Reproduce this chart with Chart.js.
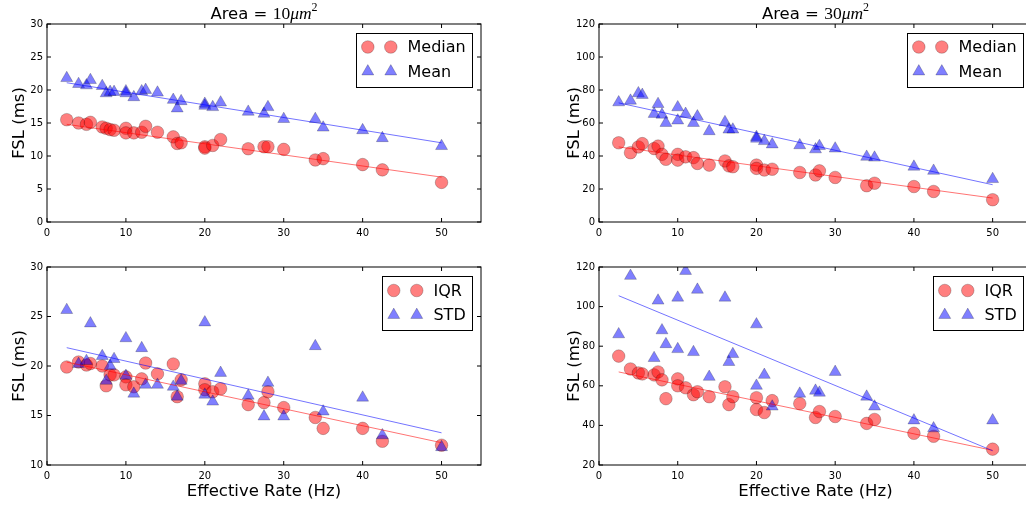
<!DOCTYPE html>
<html><head><meta charset="utf-8">
<script src="https://cdn.jsdelivr.net/npm/chart.js@4.4.1/dist/chart.umd.min.js"></script>
<style>
html,body{margin:0;padding:0;overflow:hidden;background:#fff;width:1026px;height:506px;}
canvas{position:absolute;}
</style></head><body>
<canvas id="c1" width="500" height="253" style="left:0px;top:0px"></canvas>
<canvas id="c2" width="487" height="253" style="left:555px;top:0px"></canvas>
<canvas id="c3" width="500" height="253" style="left:0px;top:253px"></canvas>
<canvas id="c4" width="487" height="253" style="left:555px;top:253px"></canvas>
<script>
// ---- data ----
const rates = [2.5, 4, 5, 5.5, 7, 7.5, 8, 8.5, 10, 10, 11, 12, 12.5, 14, 16, 16.5, 17, 20, 20, 21, 22, 25.5, 27.5, 28, 30, 34, 35, 40, 42.5, 50];
const rateTicks = [0, 10, 20, 30, 40, 50];
const fitX = [2.5, 50];

// Area = 10 um^2
const median10 = [15.5, 15.0, 14.8, 15.1, 14.4, 14.2, 14.0, 13.9, 14.2, 13.5, 13.5, 13.6, 14.5, 13.6, 12.9, 11.9, 12.0, 11.4, 11.2, 11.6, 12.5, 11.1, 11.4, 11.4, 11.0, 9.4, 9.6, 8.7, 7.9, 6.0];
const mean10   = [21.8, 20.9, 20.7, 21.5, 20.6, 19.5, 19.7, 19.7, 19.8, 19.5, 18.9, 19.8, 20.0, 19.6, 18.5, 17.2, 18.3, 17.9, 17.6, 17.4, 18.1, 16.7, 16.4, 17.4, 15.6, 15.6, 14.3, 13.9, 12.7, 11.5];
const fitMedian10 = [14.8, 6.8];
const fitMean10   = [21.1, 12.0];
const ticksTop10  = [0, 5, 10, 15, 20, 25, 30];

// Area = 30 um^2
const median30 = [48, 42, 45.5, 47.5, 44.5, 46, 41, 38, 41, 37.5, 39.5, 39, 35.5, 34.5, 37, 34, 33.5, 34.5, 32.5, 31.5, 32, 30, 28.5, 31, 27, 22, 23.5, 21.5, 18.5, 13.5];
const mean30   = [72.5, 73.5, 78, 77, 65.5, 71.5, 65, 60, 69.5, 61.5, 65.5, 60, 64, 55, 60.5, 56, 56, 51.5, 50.5, 49, 47, 46.5, 44, 46, 44.5, 39.5, 39, 33.5, 31, 26];
const fitMedian30 = [45.5, 14.5];
const fitMean30   = [72.2, 22.6];
const ticksTop30  = [0, 20, 40, 60, 80, 100, 120];

// spread, Area = 10
const iqr10 = [19.9, 20.4, 20.1, 20.25, 20.0, 18.0, 19.1, 19.1, 18.9, 18.1, 17.9, 18.7, 20.3, 19.2, 20.2, 16.9, 18.6, 18.2, 17.6, 17.4, 17.7, 16.1, 16.3, 17.4, 15.8, 14.8, 13.7, 13.7, 12.4, 12.0];
const std10 = [25.65, 20.2, 20.5, 24.3, 21.0, 18.5, 20.0, 20.7, 22.8, 19.0, 17.2, 21.8, 18.1, 18.1, 17.9, 16.9, 18.5, 24.4, 17.1, 16.4, 19.3, 17.0, 14.9, 18.3, 14.9, 22.0, 15.4, 16.8, 13.0, 11.8];
const fitIqr10 = [20.4, 12.25];
const fitStd10 = [21.85, 13.25];
const ticksBot10 = [10, 15, 20, 25, 30];

// spread, Area = 30 (two STD points lie above the visible range)
const iqr30 = [75, 68.5, 66.5, 66, 65.5, 67, 63, 53.5, 63.5, 60, 59, 55.5, 57, 54.5, 59.5, 50.5, 54.5, 54, 48, 46.5, 52.5, 51, 44, 47, 44.5, 41, 43, 36, 34.5, 28];
const std30 = [86, 115.5, null, null, 74, 103, 88, 81, 104.5, 78.5, 118, 77, 108.5, 64.5, 104.5, 72, 76, 91, 60, 65.5, 49.5, 56, 57.5, 56.5, 67, 54.5, 49.5, 42.5, 38.5, 42.5];
const fitIqr30 = [67, 27.4];
const fitStd30 = [105.5, 27.2];
const ticksBot30 = [20, 40, 60, 80, 100, 120];

// ---- styling ----
const RED_FILL = 'rgba(255,0,0,0.5)';
const BLUE_FILL = 'rgba(0,0,255,0.5)';
const EDGE = 'rgba(0,0,0,0.28)';
const R_CIRCLE = 6.3, R_TRI = 6.9;

Chart.defaults.font.family = '"DejaVu Sans"';
Chart.defaults.color = '#000';

function zip(xs, ys) {
  const out = [];
  xs.forEach((x, i) => { if (ys[i] !== null && ys[i] !== undefined) out.push({x: x, y: ys[i]}); });
  return out;
}

function drawMarker(ctx, style, x, y) {
  ctx.beginPath();
  if (style === 'circle') {
    ctx.arc(x, y, R_CIRCLE, 0, Math.PI * 2);
    ctx.fillStyle = RED_FILL;
  } else {
    const r = R_TRI;
    let rad = 0;
    ctx.moveTo(x + Math.sin(rad) * r, y - Math.cos(rad) * r);
    rad += 2 * Math.PI / 3;
    ctx.lineTo(x + Math.sin(rad) * r, y - Math.cos(rad) * r);
    rad += 2 * Math.PI / 3;
    ctx.lineTo(x + Math.sin(rad) * r, y - Math.cos(rad) * r);
    ctx.closePath();
    ctx.fillStyle = BLUE_FILL;
  }
  ctx.fill();
  ctx.strokeStyle = EDGE; ctx.lineWidth = 0.8;
  ctx.stroke();
}

const framePlugin = {
  id: 'frameDeco',
  afterDraw(chart) {
    const o = chart.options.plugins.frameDeco;
    const {ctx, chartArea: a, scales: {x, y}} = chart;
    ctx.save();
    // frame + inward ticks
    ctx.strokeStyle = '#000'; ctx.lineWidth = 1;
    ctx.strokeRect(a.left, a.top, a.right - a.left, a.bottom - a.top);
    ctx.beginPath();
    x.ticks.forEach(t => {
      const px = x.getPixelForValue(t.value);
      ctx.moveTo(px, a.bottom); ctx.lineTo(px, a.bottom - 4);
      ctx.moveTo(px, a.top); ctx.lineTo(px, a.top + 4);
    });
    y.ticks.forEach(t => {
      const py = y.getPixelForValue(t.value);
      ctx.moveTo(a.left, py); ctx.lineTo(a.left + 4, py);
      ctx.moveTo(a.right, py); ctx.lineTo(a.right - 4, py);
    });
    ctx.stroke();
    // legend
    ctx.font = '16px "DejaVu Sans"';
    const names = o.names;
    const maxW = Math.max(...names.map(n => ctx.measureText(n).width));
    const w = 52 + maxW + 6, h = 54;
    const right = a.right - 9, top = a.top + o.legTop;
    const left = right - w;
    ctx.fillStyle = '#fff';
    ctx.fillRect(left, top, w, h);
    ctx.strokeStyle = '#000'; ctx.lineWidth = 1;
    ctx.strokeRect(Math.round(left) + 0.5, Math.round(top) + 0.5, Math.round(w), h);
    const rows = [top + 14.5, top + 39];
    const styles = ['circle', 'triangle'];
    rows.forEach((ry, i) => {
      drawMarker(ctx, styles[i], left + 12, ry);
      drawMarker(ctx, styles[i], left + 35, ry);
      ctx.fillStyle = '#000';
      ctx.font = '16px "DejaVu Sans"';
      ctx.textBaseline = 'middle';
      ctx.textAlign = 'left';
      ctx.fillText(names[i], left + 51.7, ry + 1);
    });
    // title
    if (o.title) {
      const parts = [
        {t: 'Area = ', f: '16.5px "DejaVu Sans"', dy: 0},
        {t: o.title, f: '17.5px "Liberation Serif"', dy: 0},
        {t: 'μm', f: 'italic 17.5px "Liberation Serif"', dy: 0},
        {t: '2', f: '12px "Liberation Serif"', dy: -7.5}
      ];
      let total = 0;
      parts.forEach(p => { ctx.font = p.f; p.w = ctx.measureText(p.t).width; total += p.w; });
      let cx = (a.left + a.right) / 2 - total / 2;
      ctx.fillStyle = '#000'; ctx.textBaseline = 'alphabetic'; ctx.textAlign = 'left';
      parts.forEach(p => { ctx.font = p.f; ctx.fillText(p.t, cx, 18.5 + p.dy); cx += p.w; });
    }
    ctx.restore();
  }
};

function makeChart(id, cfg) {
  new Chart(document.getElementById(id), {
    type: 'scatter',
    data: {
      datasets: [
        {label: cfg.names[0], data: zip(rates, cfg.a), pointStyle: 'circle', pointRadius: R_CIRCLE,
         backgroundColor: RED_FILL, borderColor: EDGE, borderWidth: 0.8, order: 4, clip: 0},
        {label: cfg.names[1], data: zip(rates, cfg.b), pointStyle: 'triangle', pointRadius: R_TRI,
         backgroundColor: BLUE_FILL, borderColor: EDGE, borderWidth: 0.8, order: 3, clip: 0},
        {label: 'fit ' + cfg.names[0], data: zip(fitX, cfg.fa), showLine: true, pointRadius: 0,
         borderColor: 'rgba(255,0,0,0.55)', borderWidth: 1, order: 2, clip: 0},
        {label: 'fit ' + cfg.names[1], data: zip(fitX, cfg.fb), showLine: true, pointRadius: 0,
         borderColor: 'rgba(0,0,255,0.55)', borderWidth: 1, order: 1, clip: 0}
      ]
    },
    options: {
      responsive: false, animation: false, devicePixelRatio: 1, events: [],
      layout: {padding: {top: cfg.padTop, right: cfg.padRight, left: 0, bottom: 0}},
      plugins: {
        legend: {display: false}, tooltip: {enabled: false},
        frameDeco: {names: cfg.names, title: cfg.title, legTop: cfg.legTop}
      },
      scales: {
        x: {
          type: 'linear', min: 0, max: 55,
          grid: {display: false, drawTicks: false}, border: {display: false},
          ticks: {font: {size: 10}, color: '#000', padding: 5, maxRotation: 0, autoSkip: false},
          afterBuildTicks: s => { s.ticks = rateTicks.map(v => ({value: v})); },
          afterFit: s => { s.height = cfg.xH; },
          title: {display: cfg.xTitle, text: 'Effective Rate (Hz)', color: '#000',
                  font: {size: 16.5}, padding: {top: 0, bottom: 4}}
        },
        y: {
          type: 'linear', min: cfg.yTicks[0], max: cfg.yTicks[cfg.yTicks.length - 1],
          grid: {display: false, drawTicks: false}, border: {display: false},
          ticks: {font: {size: 10}, color: '#000', padding: 4, autoSkip: false},
          afterBuildTicks: s => { s.ticks = cfg.yTicks.map(v => ({value: v})); },
          afterFit: s => { s.width = cfg.yW; },
          title: {display: true, text: 'FSL (ms)', color: '#000',
                  font: {size: 16.5}, padding: {top: 10, bottom: 0}}
        }
      }
    },
    plugins: [framePlugin]
  });
}

makeChart('c1', {a: median10, b: mean10, fa: fitMedian10, fb: fitMean10, names: ['Median', 'Mean'],
  yTicks: ticksTop10, title: '10', padTop: 24, padRight: 19, yW: 47, xH: 31, xTitle: false, legTop: 8.5});
makeChart('c2', {a: median30, b: mean30, fa: fitMedian30, fb: fitMean30, names: ['Median', 'Mean'],
  yTicks: ticksTop30, title: '30', padTop: 24, padRight: 10, yW: 44, xH: 31, xTitle: false, legTop: 8.5});
makeChart('c3', {a: iqr10, b: std10, fa: fitIqr10, fb: fitStd10, names: ['IQR', 'STD'],
  yTicks: ticksBot10, title: null, padTop: 14, padRight: 19, yW: 47, xH: 41, xTitle: true, legTop: 9});
makeChart('c4', {a: iqr30, b: std30, fa: fitIqr30, fb: fitStd30, names: ['IQR', 'STD'],
  yTicks: ticksBot30, title: null, padTop: 14, padRight: 10, yW: 44, xH: 41, xTitle: true, legTop: 9});
</script>
</body></html>
